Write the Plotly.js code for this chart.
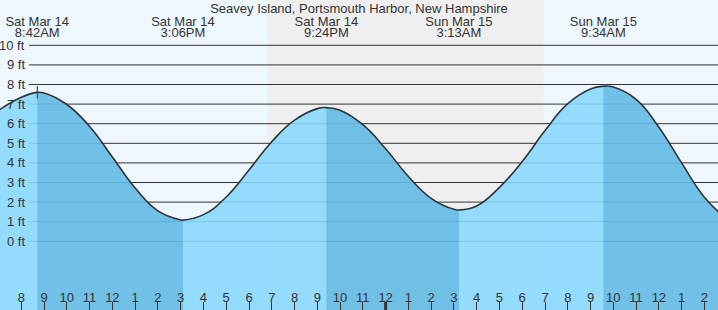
<!DOCTYPE html>
<html>
<head>
<meta charset="utf-8">
<script src="https://cdn.plot.ly/plotly-3.0.1.min.js"></script>
<style>html,body{margin:0;padding:0;background:#eef7fe;}#chart{width:718px;height:310px;}</style>
</head>
<body>
<div id="chart"></div>
<script>
// ---- data ----
const stationName = 'Seavey Island, Portsmouth Harbor, New Hampshire';

const times = [
  '2026-03-14 07:00','2026-03-14 08:00','2026-03-14 08:42','2026-03-14 09:00','2026-03-14 10:00',
  '2026-03-14 11:00','2026-03-14 12:00','2026-03-14 13:00','2026-03-14 14:00','2026-03-14 15:00',
  '2026-03-14 15:06','2026-03-14 16:00','2026-03-14 17:00','2026-03-14 18:00','2026-03-14 19:00',
  '2026-03-14 20:00','2026-03-14 21:00','2026-03-14 21:24','2026-03-14 22:00','2026-03-14 23:00',
  '2026-03-15 00:00','2026-03-15 01:00','2026-03-15 02:00','2026-03-15 03:00','2026-03-15 03:13',
  '2026-03-15 04:00','2026-03-15 05:00','2026-03-15 06:00','2026-03-15 07:00','2026-03-15 08:00',
  '2026-03-15 09:00','2026-03-15 09:34','2026-03-15 10:00','2026-03-15 11:00','2026-03-15 12:00',
  '2026-03-15 13:00','2026-03-15 14:00','2026-03-15 15:00'
];
const heights = [
  6.68, 7.35, 7.60, 7.57, 6.98,
  5.86, 4.30, 2.72, 1.55, 1.09,
  1.08, 1.36, 2.26, 3.64, 5.08,
  6.18, 6.77, 6.82, 6.69, 5.95,
  4.72, 3.31, 2.19, 1.63, 1.60,
  1.80, 2.75, 4.07, 5.65, 7.02,
  7.77, 7.91, 7.87, 7.24, 5.82,
  4.00, 2.25, 1.12
];

const extremeTimes   = ['2026-03-14 08:42','2026-03-14 15:06','2026-03-14 21:24','2026-03-15 03:13','2026-03-15 09:34','2026-03-15 15:52'];
const extremeHeights = [7.60, 1.08, 6.82, 1.60, 7.91, 1.10];
const extremeTypes   = ['H','L','H','L','H','L'];
const extremeDates   = ['Sat Mar 14','Sat Mar 14','Sat Mar 14','Sun Mar 15','Sun Mar 15','Sun Mar 15'];
const extremeClocks  = ['8:42AM','3:06PM','9:24PM','3:13AM','9:34AM','3:52PM'];

const nightStart = '2026-03-14 18:48';
const nightEnd   = '2026-03-15 06:55';
const nowTime    = '2026-03-14 08:42';
const nowHeight  = 7.60;

const gridFeet = [0,1,2,3,4,5,6,7,8,9,10];
const gridLabels = ['0 ft','1 ft','2 ft','3 ft','4 ft','5 ft','6 ft','7 ft','8 ft','9 ft','10 ft'];

const tickTimes = [
  '2026-03-14 07:00','2026-03-14 08:00','2026-03-14 09:00','2026-03-14 10:00','2026-03-14 11:00',
  '2026-03-14 12:00','2026-03-14 13:00','2026-03-14 14:00','2026-03-14 15:00','2026-03-14 16:00',
  '2026-03-14 17:00','2026-03-14 18:00','2026-03-14 19:00','2026-03-14 20:00','2026-03-14 21:00',
  '2026-03-14 22:00','2026-03-14 23:00','2026-03-15 00:00','2026-03-15 01:00','2026-03-15 02:00',
  '2026-03-15 03:00','2026-03-15 04:00','2026-03-15 05:00','2026-03-15 06:00','2026-03-15 07:00',
  '2026-03-15 08:00','2026-03-15 09:00','2026-03-15 10:00','2026-03-15 11:00','2026-03-15 12:00',
  '2026-03-15 13:00','2026-03-15 14:00'
];
const tickLabels = [
  '7','8','9','10','11','12','1','2','3','4','5','6','7','8','9','10','11',
  '12','1','2','3','4','5','6','7','8','9','10','11','12','1','2'
];
const midnightTick = '2026-03-15 00:00';

// ---- styling ----
const W = 718, H = 310;
const FONT = 'Liberation Sans, Arial, sans-serif';
const TXT = '#333333';
const DAY_BG = '#eef7fe';
const NIGHT_BG = '#efefef';
const WATER = 'rgba(136,216,254,0.88)';
const FALLING = 'rgba(30,128,180,0.30)';
const BASE = -6;
const yRange = [-3.505, 12.311];
const xRange = ['2026-03-14 07:03:53', '2026-03-15 14:35:49'];
const pxToFt = px => yRange[1] - px / H * (yRange[1] - yRange[0]);
const SPL = {shape: 'spline', smoothing: 1.3};

const ms = s => new Date(s.replace(' ', 'T')).getTime();

const traces = [];
// base + full water
traces.push({x: times, y: times.map(() => BASE), mode: 'lines', line: {width: 0}, hoverinfo: 'skip'});
traces.push({x: times, y: heights, mode: 'lines', line: Object.assign({width: 0}, SPL),
  fill: 'tonexty', fillcolor: WATER, hoverinfo: 'skip'});

// falling tide (high -> next low) darker bands
extremeTypes.forEach((t, i) => {
  if (t !== 'H') return;
  const t0 = ms(extremeTimes[i]);
  const t1 = i + 1 < extremeTimes.length ? ms(extremeTimes[i + 1]) : Infinity;
  const sx = [], sy = [];
  times.forEach((tt, k) => { const m = ms(tt); if (m >= t0 && m <= t1) { sx.push(tt); sy.push(heights[k]); } });
  traces.push({x: sx, y: sx.map(() => BASE), mode: 'lines', line: {width: 0}, hoverinfo: 'skip'});
  traces.push({x: sx, y: sy, mode: 'lines', line: Object.assign({width: 0}, SPL),
    fill: 'tonexty', fillcolor: FALLING, hoverinfo: 'skip'});
});

// tide curve outline
traces.push({x: times, y: heights, mode: 'lines', line: Object.assign({color: '#333333', width: 1.6}, SPL), hoverinfo: 'skip'});
// "now" marker
traces.push({x: [nowTime], y: [nowHeight], mode: 'markers', marker: {symbol: 'line-ns', size: 9, line: {width: 1, color: '#333333'}}, hoverinfo: 'skip'});

const textStyle = {family: FONT, size: 13, color: TXT};
// header labels for each extreme
traces.push({x: extremeTimes, y: extremeTimes.map(() => pxToFt(22.5)), mode: 'text', text: extremeDates,
  textposition: 'middle center', textfont: textStyle, cliponaxis: false, hoverinfo: 'skip'});
traces.push({x: extremeTimes, y: extremeTimes.map(() => pxToFt(34)), mode: 'text', text: extremeClocks,
  textposition: 'middle center', textfont: textStyle, cliponaxis: false, hoverinfo: 'skip'});
// hour labels along the bottom (kept as text so edge labels show partially)
traces.push({x: tickTimes, y: tickTimes.map(() => pxToFt(298.5)), mode: 'text', text: tickLabels,
  textposition: 'middle center', textfont: textStyle, cliponaxis: false, hoverinfo: 'skip'});

const shapes = [
  {type: 'rect', xref: 'x', yref: 'paper', x0: nightStart, x1: nightEnd, y0: 0, y1: 1,
   fillcolor: NIGHT_BG, line: {width: 0}, layer: 'below'}
];
gridFeet.forEach(v => shapes.push({type: 'line', xref: 'paper', yref: 'y', x0: 29 / W, x1: 1, y0: v, y1: v,
  line: {color: '#333333', width: 1}, layer: 'below'}));
shapes.push({type: 'line', xref: 'x', yref: 'paper', x0: midnightTick, x1: midnightTick, y0: 0, y1: 8 / H,
  line: {color: '#333333', width: 3}, layer: 'above'});

const annotations = gridFeet.map((v, i) => ({xref: 'paper', yref: 'y', x: 27 / W, y: v, xanchor: 'right', yanchor: 'middle',
  text: gridLabels[i], showarrow: false, font: textStyle}));

const layout = {
  width: W, height: H,
  margin: {l: 0, r: 0, t: 0, b: 0, pad: 0},
  paper_bgcolor: DAY_BG, plot_bgcolor: DAY_BG,
  showlegend: false,
  font: textStyle,
  title: {text: stationName, x: 0.5, xanchor: 'center', y: 1 - 8 / H, yanchor: 'middle', yref: 'container',
    font: textStyle},
  xaxis: {type: 'date', range: xRange, tickmode: 'array', tickvals: tickTimes,
    ticks: 'inside', ticklen: 8, tickwidth: 1, tickcolor: '#333333', showticklabels: false,
    showgrid: false, zeroline: false, showline: false, fixedrange: true},
  yaxis: {range: yRange, showgrid: false, zeroline: false, showticklabels: false, ticks: '', fixedrange: true},
  shapes: shapes,
  annotations: annotations
};

Plotly.newPlot('chart', traces, layout, {displayModeBar: false, staticPlot: true});
</script>
</body>
</html>
